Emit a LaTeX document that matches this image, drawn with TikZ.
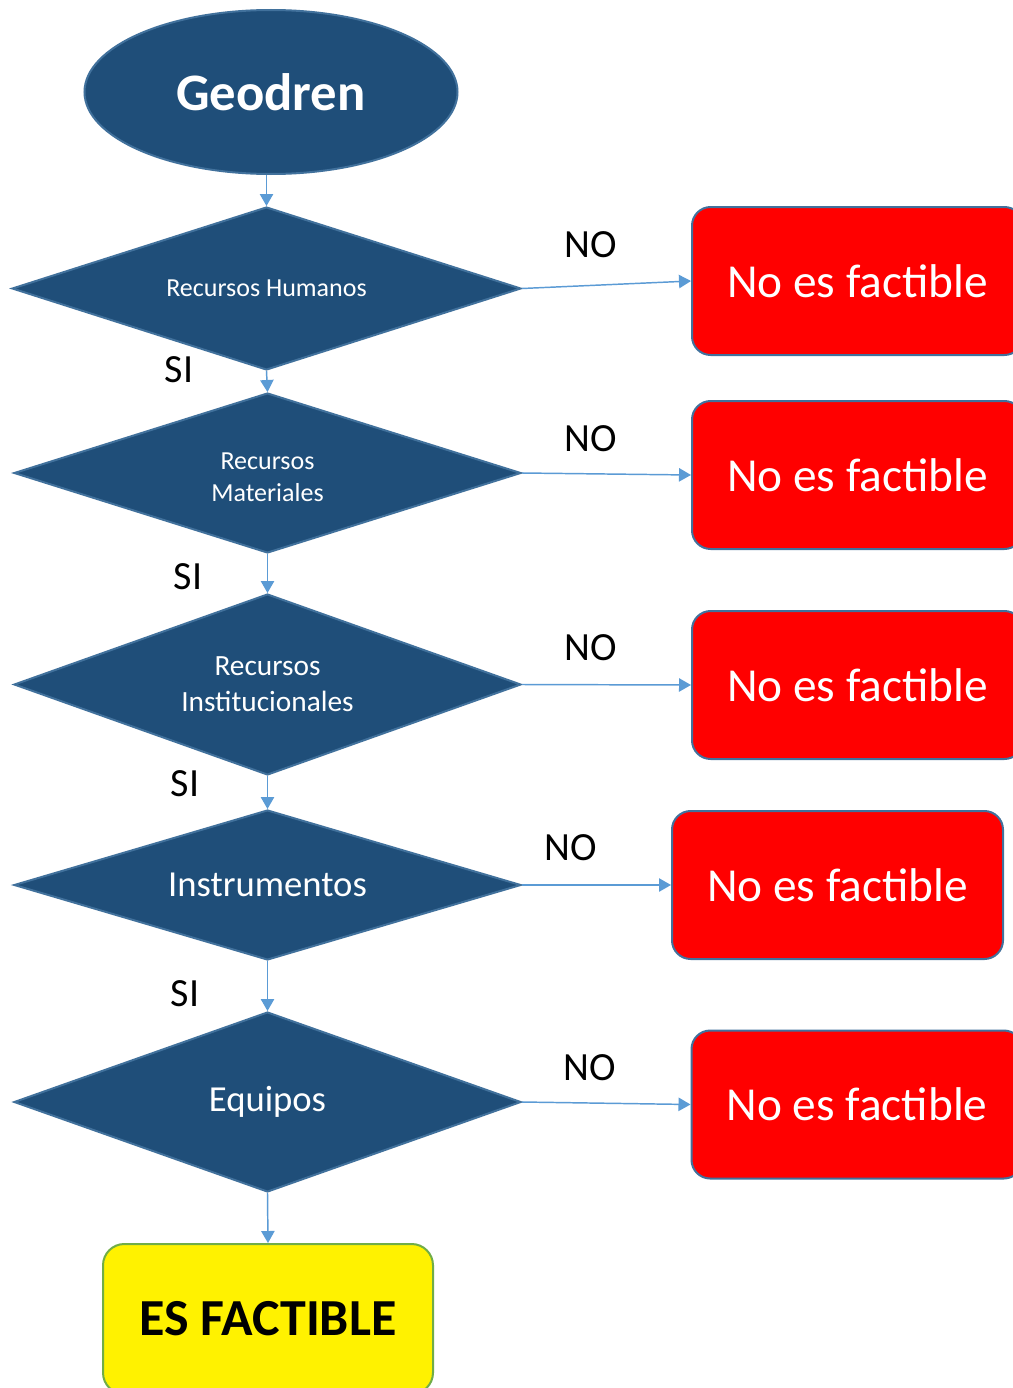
\documentclass[tikz,border=0pt]{standalone}
\usepackage{fontspec}
\setmainfont{Carlito}
\usetikzlibrary{shapes.geometric,arrows.meta}
\definecolor{dblue}{HTML}{1F4E79}
\definecolor{bord}{HTML}{41719C}
\definecolor{arr}{HTML}{5B9BD5}
\definecolor{grn}{HTML}{70AD47}
\tikzset{
  dia/.style={diamond,draw=bord,fill=dblue,line width=1.5pt,inner sep=0pt,text=white,align=center},
  redbox/.style={rectangle,rounded corners=14pt,draw=bord,fill=red,line width=1.5pt,text=white,
     minimum width=248.25pt,minimum height=111pt,inner sep=0pt,font=\fontsize{35.5}{40}\selectfont},
  lbl/.style={text=black,inner sep=0pt,font=\fontsize{30}{34}\selectfont},
  conn/.style={draw=arr,line width=1.1pt,-{Triangle[length=9pt,width=10pt]}},
}
\begin{document}
\begin{tikzpicture}[x=0.75pt,y=-0.75pt]
\clip (0,0) rectangle (1013,1388);
\fill[white] (0,0) rectangle (1013,1388);

\node[ellipse,draw=bord,fill=dblue,line width=1.5pt,minimum width=279.75pt,minimum height=123pt,inner sep=0pt,
  text=white,font=\fontsize{39.5}{44}\selectfont\bfseries] (geo) at (271,92) {Geodren};

\node[dia,shape aspect=3.12,minimum width=381.75pt,minimum height=122.25pt,font=\fontsize{19.5}{24}\selectfont] (d1) at (266.5,288.5) {Recursos Humanos};
\node[dia,shape aspect=3.17,minimum width=380.25pt,minimum height=120pt,font=\fontsize{19.5}{24.5}\selectfont] (d2) at (267.5,473) {\raisebox{-3pt}[\height][\depth]{\shortstack{Recursos\\[7pt]Materiales}}};
\node[dia,shape aspect=2.8,minimum width=380.25pt,minimum height=135.75pt,font=\fontsize{22}{27}\selectfont] (d3) at (267.5,684.5) {Recursos\\Institucionales};
\node[dia,shape aspect=3.38,minimum width=380.25pt,minimum height=112.5pt,font=\fontsize{27.5}{32}\selectfont] (d4) at (267.5,885) {Instrumentos};
\node[dia,shape aspect=2.82,minimum width=380.25pt,minimum height=135pt,font=\fontsize{27.5}{32}\selectfont] (d5) at (267.5,1102) {Equipos};

\node[redbox] (b1) at (857.5,281) {No es factible};
\node[redbox] (b2) at (857.5,475) {No es factible};
\node[redbox] (b3) at (857.5,685) {No es factible};
\node[redbox] (b4) at (837.5,885) {No es factible};
\node[redbox] (b5) at (857,1104.5) {No es factible};

\node[rectangle,rounded corners=16pt,draw=grn,fill=yellow,line width=1.5pt,minimum width=247.5pt,minimum height=112.5pt,inner sep=0pt,
  font=\fontsize{39}{44}\selectfont\bfseries] (ok) at (268,1319) {ES FACTIBLE};

\node[lbl] (no1) at (591,245) {NO};
\node[lbl] (no2) at (591,439) {NO};
\node[lbl] (no3) at (591,648) {NO};
\node[lbl] (no4) at (571,848) {NO};
\node[lbl] (no5) at (590,1068) {NO};
\node[lbl] (si1) at (179,370) {SI};
\node[lbl] (si2) at (188,577) {SI};
\node[lbl] (si3) at (185,784) {SI};
\node[lbl] (si4) at (185,994) {SI};

\draw[conn] (d1.north |- geo.south) -- (d1.north);
\draw[conn] (d1.south) -- (d2.north);
\draw[conn] (d2.south) -- (d3.north);
\draw[conn] (d3.south) -- (d4.north);
\draw[conn] (d4.south) -- (d5.north);
\draw[conn] (d5.south) -- (ok.north);

\draw[conn] (d1.east) -- (b1.west);
\draw[conn] (d2.east) -- (b2.west);
\draw[conn] (d3.east) -- (b3.west);
\draw[conn] (d4.east) -- (b4.west);
\draw[conn] (d5.east) -- (b5.west);
\end{tikzpicture}
\end{document}
